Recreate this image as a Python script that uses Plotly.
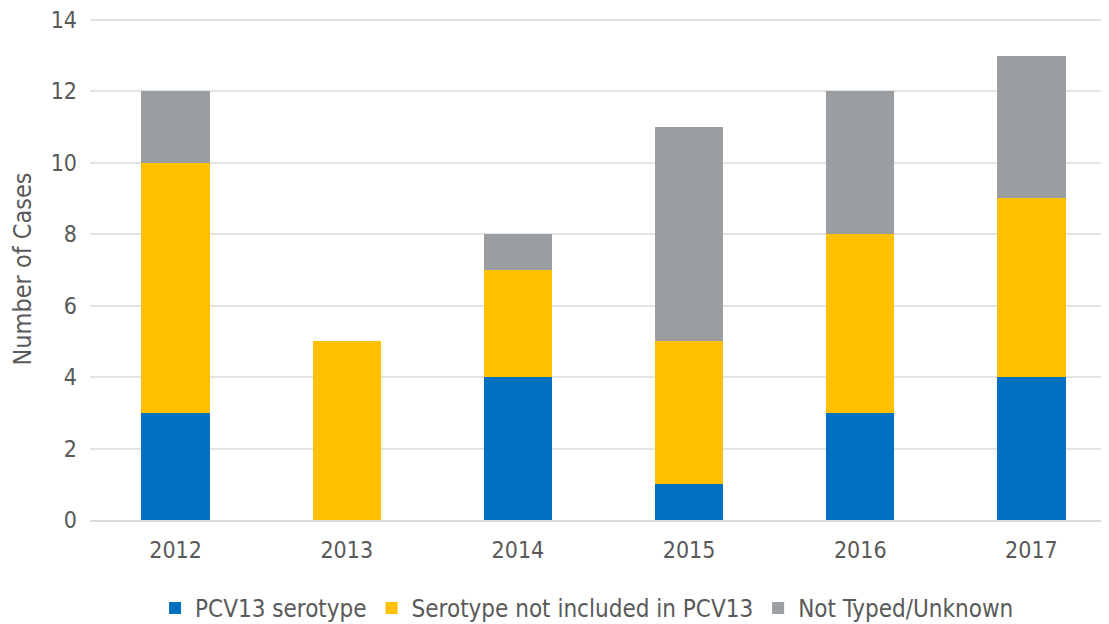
import plotly.graph_objects as go

years = ["2012", "2013", "2014", "2015", "2016", "2017"]
pcv13 = [3, 0, 4, 1, 3, 4]
not_included = [7, 5, 3, 4, 5, 5]
unknown = [2, 0, 1, 6, 4, 4]
y_ticks = [0, 2, 4, 6, 8, 10, 12, 14]

FONT = "DejaVu Sans Condensed, Open Sans, sans-serif"
TXT = "#595959"

fig = go.Figure()
fig.add_bar(x=years, y=pcv13, name="PCV13 serotype", marker_color="#0070C0", marker_line_width=0)
fig.add_bar(x=years, y=not_included, name="Serotype not included in PCV13", marker_color="#FFC000", marker_line_width=0)
fig.add_bar(x=years, y=unknown, name="Not Typed/Unknown", marker_color="#9B9EA1", marker_line_width=0)

fig.update_layout(
    barmode="stack",
    bargap=0.6,
    width=1109, height=624,
    margin=dict(l=82, r=0, t=10, b=112),
    paper_bgcolor="white", plot_bgcolor="white",
    font=dict(family=FONT, size=23, color=TXT),
    legend=dict(orientation="h", x=0.484, xanchor="center", y=-0.176, yanchor="middle",
                font=dict(family=FONT, size=24, color=TXT), traceorder="normal",
                itemwidth=30),
    showlegend=True,
)
fig.update_xaxes(type="category", range=[-0.5, 5.5], showgrid=False,
                 showline=True, linecolor="#D9D9D9", linewidth=2,
                 ticks="", tickfont=dict(family=FONT, size=23, color=TXT), ticklabelstandoff=8)
fig.update_yaxes(range=[0, 14.05], tickvals=y_ticks, showgrid=True, gridcolor="#E3E3E3", gridwidth=1.5,
                 zeroline=False, showline=False, ticks="", ticklabeloverflow="allow",
                 tickfont=dict(family=FONT, size=23, color=TXT), ticklabelstandoff=12,
                 title=dict(text="Number of Cases", font=dict(family=FONT, size=25, color=TXT), standoff=14))

fig.write_html("out.html")
